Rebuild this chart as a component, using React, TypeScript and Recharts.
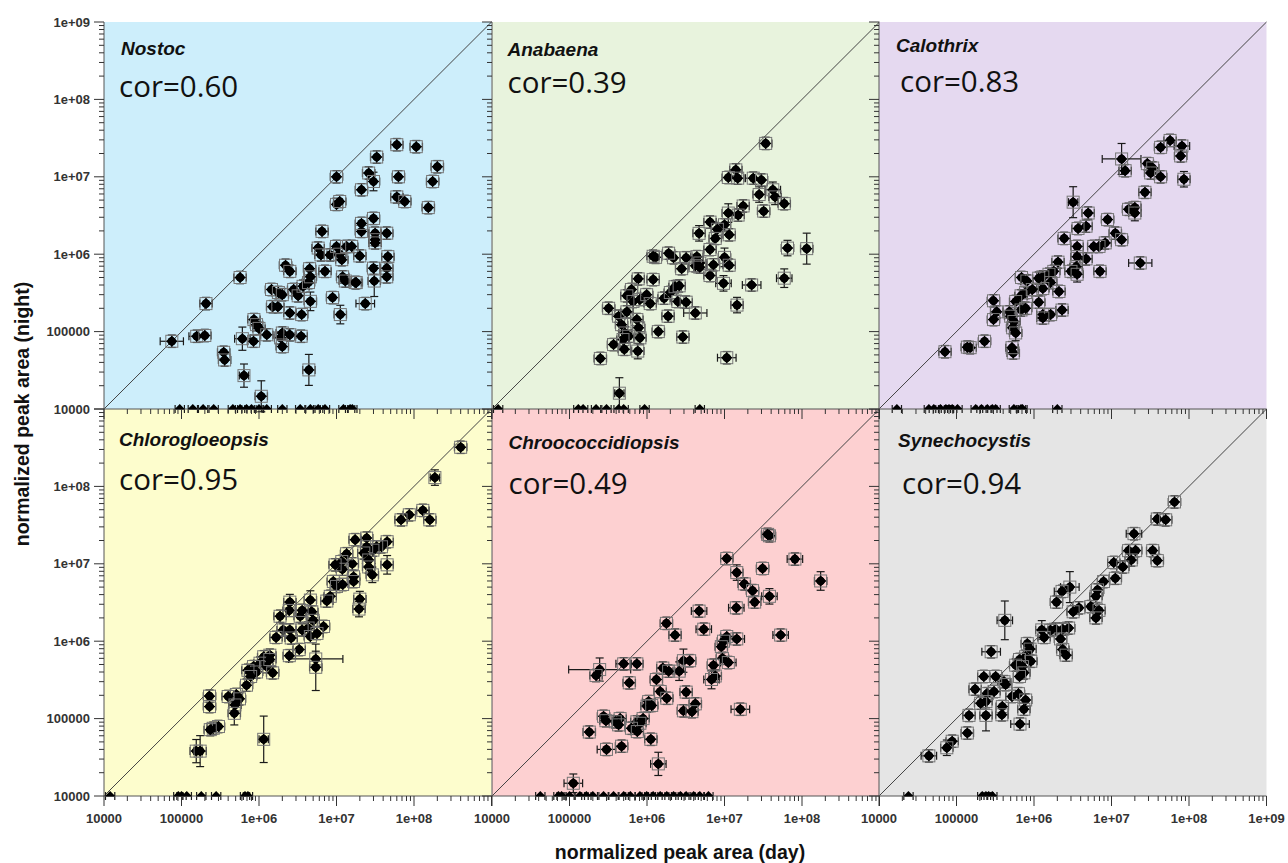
import { ScatterChart, Scatter, XAxis, YAxis, ErrorBar, ReferenceLine, CartesianGrid } from 'recharts'

type Pt = [number, number, number?, number?]

// axis ticks
const majorTicks = [1e4, 1e5, 1e6, 1e7, 1e8, 1e9]
const majorLabels = ['10000', '100000', '1e+06', '1e+07', '1e+08', '1e+09']
const minorSteps = [2, 3, 4, 5, 6, 7, 8, 9]

// [day, night, x error (decades), y error (decades)]
const nostoc: Pt[] = [
  [7.5e4, 7.5e4, 0.15], [1.57e5, 8.7e4, 0.1], [2.0e5, 8.9e4], [2.07e5, 2.3e5], [3.5e5, 5.4e4],
  [3.6e5, 4.3e4], [5.7e5, 5.0e5], [6.1e5, 8.1e4, 0.1, 0.15], [6.4e5, 2.7e4, 0.06, 0.15],
  [1.07e6, 1.46e4, 0.08, 0.2], [8.6e5, 1.43e5], [9.3e5, 1.23e5], [1.0e6, 1.1e5], [8.5e5, 7.5e4],
  [1.26e6, 9.1e4], [1.9e6, 8.3e4], [2.0e6, 6.4e4], [2.0e6, 9.6e4], [2.5e6, 9.1e4], [3.5e6, 8.7e4],
  [4.4e6, 3.2e4, 0.08, 0.2], [1.45e6, 3.5e5], [1.78e6, 3.2e5], [2.0e6, 3.0e5], [2.2e6, 7.2e5],
  [2.5e6, 6.0e5], [1.5e6, 2.1e5], [1.75e6, 2.1e5], [2.5e6, 1.74e5], [2.8e6, 3.5e5], [3.2e6, 2.9e5],
  [3.55e6, 1.66e5], [3.7e6, 3.85e5], [4.35e6, 4.3e5], [4.6e6, 2.46e5, 0.08, 0.12], [4.5e6, 6.5e5],
  [4.6e6, 5.1e5], [5.8e6, 1.2e6], [6.5e6, 1.97e6], [6.3e6, 9.8e5], [7.1e6, 6.0e5], [8.3e6, 9.8e5],
  [8.9e6, 2.75e5], [1.0e7, 1.26e6], [1.1e7, 1.0e6], [1.12e7, 1.66e5, 0.08, 0.12], [1.17e7, 8.5e5],
  [1.2e7, 5.1e5], [1.3e7, 4.5e5], [1.35e7, 1.26e6], [1.57e7, 1.26e6], [1.74e7, 4.3e5], [2.0e7, 9.5e5],
  [2.1e7, 1.97e6], [2.1e7, 2.5e6], [2.35e7, 2.3e5, 0.12], [3.0e7, 2.9e6], [3.0e7, 6.6e5],
  [3.07e7, 4.5e5, 0.08, 0.2], [3.15e7, 1.87e6], [3.15e7, 1.54e6], [3.15e7, 1.4e6], [4.45e7, 1.87e6],
  [4.45e7, 6.6e5], [4.45e7, 5.1e5], [4.6e7, 9.3e5], [2.1e7, 6.8e6], [2.6e7, 1.12e7],
  [3.0e7, 8.7e6, 0.08, 0.12], [1.0e7, 4.4e6], [1.1e7, 4.8e6], [1.0e7, 1.0e7], [3.3e7, 1.8e7],
  [6.0e7, 2.6e7], [1.07e8, 2.45e7], [6.3e7, 1.0e7], [6.0e7, 5.5e6], [7.6e7, 4.8e6], [1.74e8, 8.7e6],
  [2.0e8, 1.35e7], [1.53e8, 4.0e6], [1.8e7, 4.3e5],
]
const nostocFloor = [9.5e4, 1.4e5, 1.9e5, 2.6e5, 4.6e5, 5.7e5, 6.9e5, 8.0e5, 1.0e6, 1.26e6, 2.0e6, 3.4e6, 4.6e6, 5.8e6, 7.1e6, 1.23e7, 1.5e7, 1.6e7]

const anabaena: Pt[] = [
  [3.4e7, 2.7e7], [1.4e7, 1.23e7], [1.12e7, 9.8e6], [1.48e7, 9.6e6], [2.35e7, 9.6e6, 0.1], [3.0e7, 9.1e6],
  [2.8e7, 5.9e6, 0.08, 0.1], [4.2e7, 6.8e6, 0.1, 0.1], [4.5e7, 5.5e6, 0.08, 0.1], [5.9e7, 4.5e6],
  [3.2e7, 3.6e6], [1.74e7, 4.2e6], [1.5e7, 3.2e6], [1.12e7, 3.4e6, 0.08, 0.12], [1.0e7, 2.4e6],
  [1.15e7, 1.78e6], [6.5e6, 2.6e6], [4.7e6, 1.86e6, 0.08, 0.1], [8.1e6, 2.1e6], [7.6e6, 1.6e6],
  [6.5e6, 1.15e6], [1.0e7, 9.1e5, 0.08, 0.12], [1.15e7, 7.2e5], [9.7e6, 4.2e5, 0.1, 0.1],
  [1.45e7, 2.2e5, 0.08, 0.1], [6.5e6, 5.3e5], [7.2e6, 7.3e5], [4.4e6, 9.3e5], [4.8e6, 7.7e5],
  [4.2e6, 7.1e5], [4.8e6, 6.8e5], [3.2e6, 9.0e5], [2.8e6, 6.5e5], [2.2e6, 9.0e5], [1.9e6, 1.03e6],
  [1.29e6, 9.1e5], [1.2e6, 4.7e5], [7.7e5, 4.8e5], [6.3e5, 3.5e5], [5.5e5, 2.9e5], [6.6e5, 2.45e5],
  [8.1e5, 2.6e5], [9.9e5, 3.0e5], [1.1e6, 2.3e5], [3.2e5, 2.0e5], [4.3e5, 1.58e5], [5.5e5, 1.8e5],
  [4.7e5, 1.23e5], [5.2e5, 9.6e4], [5.8e5, 8.7e4], [4.9e5, 7.9e4], [7.4e5, 1.43e5], [7.8e5, 1.12e5],
  [8.1e5, 8.3e4], [7.6e5, 5.6e4, 0.08, 0.1], [3.7e5, 6.8e4], [2.5e5, 4.5e4], [4.4e5, 1.6e4, 0.06, 0.2],
  [1.4e6, 1.0e5], [1.87e6, 1.58e5], [1.66e6, 2.7e5], [2.0e6, 3.2e5], [2.3e6, 3.8e5], [2.6e6, 3.9e5],
  [2.5e6, 2.45e5], [3.2e6, 2.4e5], [2.9e6, 8.5e4], [4.2e6, 1.74e5, 0.15], [1.07e7, 4.6e4, 0.12],
  [2.24e7, 4.0e5, 0.12], [5.9e7, 4.9e5, 0.1, 0.12], [6.5e7, 1.2e6, 0.08, 0.1], [1.15e8, 1.18e6, 0.08, 0.2],
  [1.2e6, 9.4e5], [5.1e5, 5.9e4],
]
const anabaenaFloor = [1.2e4, 1.3e5, 1.5e5, 2.2e5, 3.0e5, 4.3e5, 5.0e5, 9.3e5, 4.8e6]

const calothrix: Pt[] = [
  [5.7e7, 2.95e7], [4.3e7, 2.4e7], [8.1e7, 2.5e7, 0.1], [7.8e7, 1.86e7], [8.6e7, 9.3e6, 0.08, 0.1],
  [1.35e7, 1.7e7, 0.25, 0.2], [1.5e7, 1.2e7], [2.9e7, 1.48e7], [3.4e7, 1.3e7], [3.2e7, 1.12e7],
  [4.3e7, 1.0e7], [2.7e7, 6.3e6], [1.66e7, 3.8e6], [2.0e7, 4.0e6], [2.0e7, 3.4e6, 0.08, 0.1],
  [3.2e6, 4.7e6, 0.06, 0.2], [5.0e6, 3.4e6], [4.7e6, 2.3e6], [3.7e6, 2.15e6], [8.9e6, 2.8e6],
  [1.12e7, 1.87e6], [1.35e7, 1.54e6], [8.3e6, 1.4e6], [6.9e6, 1.26e6], [5.9e6, 1.26e6], [3.6e6, 1.26e6],
  [2.45e6, 1.6e6], [4.7e6, 8.7e5], [3.6e6, 9.3e5], [3.5e6, 6.9e5], [3.0e6, 6.0e5], [3.6e6, 5.5e5, 0.08, 0.1],
  [7.1e6, 6.0e5], [2.35e7, 7.7e5, 0.15], [2.04e6, 7.9e5], [1.8e6, 6.0e5], [1.56e6, 5.5e5], [1.3e6, 5.1e5],
  [1.64e6, 4.3e5], [1.3e6, 3.6e5], [2.1e6, 3.3e5], [6.9e5, 5.0e5], [8.1e5, 4.5e5], [7.8e5, 3.2e5],
  [6.8e5, 2.9e5], [5.8e5, 2.45e5], [6.8e5, 1.9e5], [7.8e5, 2.0e5], [1.15e6, 2.4e5], [1.3e6, 1.66e5],
  [1.64e6, 1.66e5], [1.3e6, 1.5e5], [2.3e6, 1.9e5], [3.0e5, 2.5e5], [3.3e5, 1.8e5], [3.0e5, 1.43e5],
  [4.8e5, 1.8e5], [5.0e5, 1.58e5], [5.5e5, 1.35e5], [5.3e5, 1.12e5], [5.8e5, 9.6e4, 0.08, 0.1],
  [2.3e5, 7.5e4], [1.5e5, 6.2e4], [1.38e5, 6.3e4], [7.1e4, 5.5e4], [5.4e5, 5.3e4], [5.2e5, 6.2e4],
  [1.15e6, 4.9e5], [9.5e5, 3.5e5],
]
const calothrixFloor = [1.7e4, 4.4e4, 5.1e4, 6.2e4, 7.3e4, 8.0e4, 8.8e4, 1.03e5, 1.77e5, 2.1e5, 2.5e5, 2.9e5, 3.2e5, 5.5e5, 6.8e5, 7.1e5, 2.0e6]

const chlorogloeopsis: Pt[] = [
  [4.0e8, 3.2e8], [1.86e8, 1.3e8, 0.06, 0.1], [1.3e8, 4.9e7], [1.6e8, 3.7e7], [8.7e7, 4.3e7], [6.8e7, 3.7e7],
  [4.5e7, 9.7e6, 0.08, 0.12], [4.5e7, 1.93e7], [3.8e7, 1.66e7], [3.3e7, 1.66e7], [2.95e7, 1.5e7],
  [2.45e7, 2.15e7], [2.45e7, 1.66e7], [2.25e7, 1.38e7], [2.6e7, 1.12e7], [2.6e7, 9.1e6],
  [2.9e7, 7.2e6, 0.08, 0.1], [1.74e7, 2.05e7], [1.66e7, 6.8e6], [1.66e7, 5.9e6], [2.0e7, 3.5e6, 0.08, 0.1],
  [1.95e7, 2.6e6, 0.08, 0.1], [1.6e7, 1.0e7], [1.35e7, 1.35e7], [1.17e7, 1.07e7], [1.19e7, 8.5e6],
  [9.6e6, 9.7e6], [9.1e6, 5.9e6], [1.0e7, 5.1e6], [1.2e7, 5.4e6], [8.3e6, 3.8e6], [7.5e6, 3.3e6],
  [6.8e6, 1.55e6], [4.6e6, 3.4e6, 0.08, 0.12], [4.8e6, 2.4e6], [5.0e6, 1.86e6], [4.3e6, 1.48e6],
  [3.6e6, 1.4e6], [3.4e6, 2.1e6], [3.6e6, 2.5e6], [4.6e6, 1.15e6], [5.6e6, 1.26e6], [2.5e6, 3.2e6, 0.08, 0.1],
  [2.45e6, 2.5e6], [1.87e6, 2.1e6], [2.05e6, 1.4e6], [2.5e6, 1.4e6], [2.6e6, 1.1e6], [1.66e6, 1.12e6],
  [3.3e6, 7.8e5], [2.46e6, 6.5e5], [5.4e6, 5.9e5, 0.35, 0.1], [5.4e6, 4.6e5, 0.08, 0.3], [1.38e6, 6.6e5],
  [1.15e6, 6.3e5], [1.03e6, 5.2e5], [8.5e5, 4.7e5], [9.3e5, 4.0e5], [7.2e5, 4.2e5], [7.8e5, 3.5e5],
  [6.9e5, 2.7e5], [1.26e6, 4.7e5], [1.5e6, 3.9e5], [1.38e6, 5.8e5], [5.1e5, 2.05e5], [5.6e5, 1.8e5],
  [4.0e5, 1.93e5], [4.9e5, 1.5e5], [4.8e5, 1.17e5, 0.08, 0.15], [2.3e5, 1.95e5], [2.3e5, 1.43e5],
  [2.57e5, 7.5e4], [3.0e5, 7.9e4], [2.35e5, 7.2e4], [1.55e5, 3.8e4, 0.08, 0.15], [1.74e5, 3.8e4, 0.08, 0.2],
  [1.15e6, 5.4e4, 0.06, 0.3],
]
const chlorogloeopsisFloor = [1.2e4, 9.1e4, 1.0e5, 1.17e5, 1.8e5, 2.8e5, 6.6e5, 7.2e5]

const chroococcidiopsis: Pt[] = [
  [3.8e7, 2.3e7], [3.6e7, 2.4e7], [1.07e7, 1.17e7], [8.1e7, 1.15e7, 0.1], [3.1e7, 8.7e6],
  [1.44e7, 7.7e6, 0.08, 0.1], [1.74e8, 6.0e6, 0.08, 0.12], [1.8e7, 5.5e6], [2.3e7, 4.5e6], [2.45e7, 3.2e6],
  [3.8e7, 3.8e6, 0.1, 0.1], [1.42e7, 2.7e6, 0.1], [4.7e6, 2.45e6, 0.1], [1.78e6, 1.7e6], [2.3e6, 1.2e6],
  [5.4e6, 1.43e6, 0.1], [1.07e7, 1.15e6], [1.44e7, 1.07e6, 0.1], [9.7e6, 1.0e6], [9.1e6, 8.5e5],
  [5.3e7, 1.2e6, 0.1], [9.4e6, 6.0e5], [1.12e7, 5.3e5, 0.1], [7.2e6, 4.9e5], [7.6e6, 3.55e5],
  [6.8e6, 3.2e5, 0.1, 0.12], [2.95e6, 5.6e5, 0.08, 0.15], [3.55e6, 5.6e5], [2.6e6, 4.1e5, 0.08, 0.12],
  [1.6e6, 4.5e5], [1.9e6, 4.1e5], [1.32e6, 3.2e5], [7.4e5, 5.1e5], [5.0e5, 5.1e5, 0.1],
  [2.45e5, 4.3e5, 0.4, 0.15], [2.2e5, 3.6e5], [5.9e5, 2.9e5], [1.48e6, 2.24e5], [3.2e6, 2.2e5],
  [1.8e6, 1.83e5], [1.05e6, 1.66e5], [1.0e6, 1.45e5], [1.15e6, 1.48e5], [4.2e6, 1.55e5], [2.95e6, 1.26e5],
  [3.8e6, 1.23e5], [1.6e7, 1.32e5, 0.12], [7.4e5, 9.1e4], [8.9e5, 1.0e5], [8.1e5, 8.7e4], [6.3e5, 7.5e4],
  [7.5e5, 6.8e4], [4.5e5, 1.0e5], [3.9e5, 9.1e4], [4.3e5, 8.3e4], [2.75e5, 1.07e5], [2.95e5, 9.4e4],
  [1.8e5, 6.7e4], [3.0e5, 4.0e4, 0.12], [4.7e5, 4.4e4], [1.12e6, 5.4e4], [1.4e6, 2.6e4, 0.1, 0.15],
  [1.12e5, 1.46e4, 0.12, 0.12],
]
const chroococcidiopsisFloor = [4.2e4, 7.2e4, 7.9e4, 1.0e5, 1.36e5, 1.65e5, 2.0e5, 2.75e5, 3.7e5, 5.0e5, 6.1e5, 8.1e5, 9.9e5, 1.2e6, 1.48e6, 1.8e6, 2.2e6, 2.7e6, 3.2e6, 4.0e6, 4.8e6, 6.2e6]

const synechocystis: Pt[] = [
  [6.5e7, 6.3e7], [3.9e7, 3.8e7], [5.0e7, 3.7e7], [1.95e7, 2.45e7, 0.1], [1.66e7, 1.48e7], [2.05e7, 1.48e7],
  [1.8e7, 1.12e7], [3.4e7, 1.48e7], [3.9e7, 1.1e7], [1.07e7, 1.04e7], [1.4e7, 9.1e6], [1.12e7, 6.5e6],
  [7.9e6, 5.9e6], [6.6e6, 4.6e6], [6.3e6, 3.8e6], [5.4e6, 2.8e6], [6.9e6, 2.5e6], [6.3e6, 2.0e6],
  [2.9e6, 5.0e6, 0.12, 0.2], [2.3e6, 4.4e6, 0.1], [1.95e6, 3.2e6], [3.8e6, 2.7e6], [3.2e6, 2.4e6],
  [2.8e6, 1.48e6], [2.35e6, 1.43e6], [1.9e6, 1.43e6], [1.64e6, 1.38e6], [2.2e6, 1.07e6], [2.35e6, 7.8e5],
  [2.6e6, 6.6e5], [1.26e6, 1.4e6, 0.08, 0.12], [1.35e6, 1.12e6], [4.2e5, 1.86e6, 0.1, 0.25],
  [2.8e5, 7.3e5, 0.12], [8.2e5, 9.3e5], [8.9e5, 7.9e5], [7.8e5, 6.3e5], [9.1e5, 5.5e5], [6.5e5, 5.8e5],
  [5.8e5, 4.9e5], [7.1e5, 4.7e5], [7.4e5, 3.9e5], [6.5e5, 3.5e5], [4.1e5, 3.0e5], [4.3e5, 2.75e5],
  [3.2e5, 3.5e5], [2.25e5, 3.5e5], [1.74e5, 2.4e5], [2.5e5, 2.1e5], [3.05e5, 2.24e5], [2.4e5, 1.66e5],
  [2.05e5, 1.58e5], [5.2e5, 1.93e5], [6.3e5, 2.1e5], [7.8e5, 1.74e5], [7.4e5, 1.32e5], [3.9e5, 1.43e5],
  [3.85e5, 1.12e5], [6.6e5, 8.5e4, 0.12], [1.45e5, 1.1e5], [2.4e5, 1.1e5, 0.08, 0.2], [1.38e5, 6.5e4],
  [8.8e4, 5.1e4], [7.5e4, 4.2e4, 0.08, 0.1], [4.4e4, 3.3e4, 0.1],
]
const synechocystisFloor = [2.4e4, 2.15e5, 2.4e5, 2.6e5, 2.9e5]

const FLOOR = 1e4
const DEF_ERR = 0.08

const PW = 387.5
const PH = 387
const COL_X = [104, 491.5, 879]
const ROW_Y = [22, 409]
const YW = 100
const XH = 50
const MT = 10
const MR = 30

const panels = [
  { name: 'Nostoc', cor: 'cor=0.60', bg: '#cdeefb', pts: nostoc, floor: nostocFloor, col: 0, row: 0, nameAt: [17, 33], corAt: [15, 75] },
  { name: 'Anabaena', cor: 'cor=0.39', bg: '#e8f3dd', pts: anabaena, floor: anabaenaFloor, col: 1, row: 0, nameAt: [16, 34], corAt: [16, 71] },
  { name: 'Calothrix', cor: 'cor=0.83', bg: '#e5d9f0', pts: calothrix, floor: calothrixFloor, col: 2, row: 0, nameAt: [17, 30], corAt: [21, 70] },
  { name: 'Chlorogloeopsis', cor: 'cor=0.95', bg: '#fdfdcd', pts: chlorogloeopsis, floor: chlorogloeopsisFloor, col: 0, row: 1, nameAt: [15, 37], corAt: [15, 81] },
  { name: 'Chroococcidiopsis', cor: 'cor=0.49', bg: '#fdd0d1', pts: chroococcidiopsis, floor: chroococcidiopsisFloor, col: 1, row: 1, nameAt: [17, 40], corAt: [17, 85] },
  { name: 'Synechocystis', cor: 'cor=0.94', bg: '#e5e5e5', pts: synechocystis, floor: synechocystisFloor, col: 2, row: 1, nameAt: [19, 38], corAt: [23, 85] },
]

const allTicks = majorTicks.flatMap((m, i) => (i < majorTicks.length - 1 ? [m, ...minorSteps.map((s) => s * m)] : [m]))

const tickFont = { fontFamily: '"Liberation Sans", Arial, sans-serif', fontWeight: 700, fontSize: 13, fill: '#333' }

function toPoint([x, y, ex = DEF_ERR, ey = DEF_ERR]: Pt, floor = false) {
  return {
    x,
    y,
    floor,
    ex: [x - x / 10 ** ex, x * 10 ** ex - x],
    ey: [y - y / 10 ** ey, y * 10 ** ey - y],
  }
}

function Marker(props: any) {
  const { cx, cy, payload } = props
  if (cx == null || cy == null) return null
  if (payload && payload.floor) {
    // zero night values sit on the lower edge, only the upper half shows
    return <path d={`M${cx - 5},${cy}L${cx},${cy - 5}L${cx + 5},${cy}Z`} fill="#000" />
  }
  return (
    <g>
      <rect x={cx - 6} y={cy - 6} width={12} height={12} fill="none" stroke="#777" strokeWidth={1} />
      <circle cx={cx} cy={cy} r={4.3} fill="#000" />
      <path d={`M${cx},${cy - 5.5}L${cx + 5.5},${cy}L${cx},${cy + 5.5}L${cx - 5.5},${cy}Z`} fill="#000" />
    </g>
  )
}

function XTick({ x, y, payload, labels, last }: any) {
  const v = payload.value
  const i = majorTicks.indexOf(v)
  const major = i >= 0
  return (
    <g>
      <line x1={x} x2={x} y1={y} y2={y + (major ? 10 : 5)} stroke="#333" strokeWidth={1} />
      {labels && major && (v < 1e9 || last) && (
        <text x={x} y={y + 27} textAnchor="middle" style={tickFont}>
          {majorLabels[i]}
        </text>
      )}
    </g>
  )
}

function YTick({ x, y, payload, labels, top }: any) {
  const v = payload.value
  const i = majorTicks.indexOf(v)
  const major = i >= 0
  return (
    <g>
      <line x1={x} x2={x - (major ? 10 : 5)} y1={y} y2={y} stroke="#333" strokeWidth={1} />
      {labels && major && (v < 1e9 || top) && (
        <text x={x - 14} y={y} dy="0.36em" textAnchor="end" style={tickFont}>
          {majorLabels[i]}
        </text>
      )}
    </g>
  )
}

function Panel({ p }: { p: (typeof panels)[number] }) {
  const data = [...p.pts.map((t) => toPoint(t)), ...p.floor.map((x) => toPoint([x, FLOOR, 0.06, 0], true))]
  return (
    <div style={{ position: 'absolute', left: COL_X[p.col] - YW, top: ROW_Y[p.row] - MT }}>
      <ScatterChart width={YW + PW + MR} height={MT + PH + XH} margin={{ top: MT, right: MR, bottom: 0, left: 0 }}>
        <CartesianGrid fill={p.bg} fillOpacity={1} stroke="none" horizontal={false} vertical={false} />
        <XAxis
          type="number"
          dataKey="x"
          scale="log"
          domain={[1e4, 1e9]}
          allowDataOverflow
          ticks={allTicks}
          interval={0}
          tickSize={0}
          tickMargin={0}
          height={XH}
          axisLine={{ stroke: '#555' }}
          tickLine={false}
          tick={(props: any) => <XTick {...props} labels={p.row === 1} last={p.col === 2} />}
        />
        <YAxis
          type="number"
          dataKey="y"
          scale="log"
          domain={[1e4, 1e9]}
          allowDataOverflow
          ticks={allTicks}
          interval={0}
          tickSize={0}
          tickMargin={0}
          width={YW}
          axisLine={{ stroke: '#555' }}
          tickLine={false}
          tick={(props: any) => <YTick {...props} labels={p.col === 0} top={p.row === 0} />}
        />
        <ReferenceLine
          segment={[{ x: 1e4, y: 1e4 }, { x: 1e9, y: 1e9 }]}
          stroke="#444"
          strokeWidth={1}
          ifOverflow="visible"
        />
        <Scatter data={data} shape={Marker} isAnimationActive={false}>
          <ErrorBar dataKey="ex" direction="x" width={4} stroke="#1a1a1a" strokeWidth={1.2} isAnimationActive={false} />
          <ErrorBar dataKey="ey" direction="y" width={4} stroke="#1a1a1a" strokeWidth={1.2} isAnimationActive={false} />
        </Scatter>
      </ScatterChart>
    </div>
  )
}

export default function App() {
  // bottom row first so the top row's outward ticks sit on top of it
  const order = [...panels.filter((p) => p.row === 1), ...panels.filter((p) => p.row === 0)]
  return (
    <div style={{ position: 'absolute', left: 0, top: 0, width: 1288, height: 863, background: '#fff', overflow: 'hidden' }}>
      {order.map((p) => (
        <Panel key={p.name} p={p} />
      ))}
      <svg width={1288} height={863} style={{ position: 'absolute', left: 0, top: 0, pointerEvents: 'none' }}>
        {panels.map((p) => (
          <g key={p.name}>
            <text
              x={COL_X[p.col] + p.nameAt[0]}
              y={ROW_Y[p.row] + p.nameAt[1]}
              style={{ fontFamily: '"Liberation Sans", Arial, sans-serif', fontWeight: 700, fontStyle: 'italic', fontSize: 19, fill: '#111' }}
            >
              {p.name}
            </text>
            <text
              x={COL_X[p.col] + p.corAt[0]}
              y={ROW_Y[p.row] + p.corAt[1]}
              style={{ fontFamily: '"Open Sans", sans-serif', fontSize: 29.5, fill: '#111' }}
            >
              {p.cor}
            </text>
          </g>
        ))}
        <text
          x={22}
          y={414}
          transform="rotate(-90 22 414)"
          textAnchor="middle"
          dy="0.36em"
          style={{ fontFamily: '"Liberation Sans", Arial, sans-serif', fontWeight: 700, fontSize: 19.5, fill: '#111' }}
        >
          normalized peak area (night)
        </text>
        <text
          x={680}
          y={859}
          textAnchor="middle"
          style={{ fontFamily: '"Liberation Sans", Arial, sans-serif', fontWeight: 700, fontSize: 19.5, fill: '#111' }}
        >
          normalized peak area (day)
        </text>
      </svg>
    </div>
  )
}
